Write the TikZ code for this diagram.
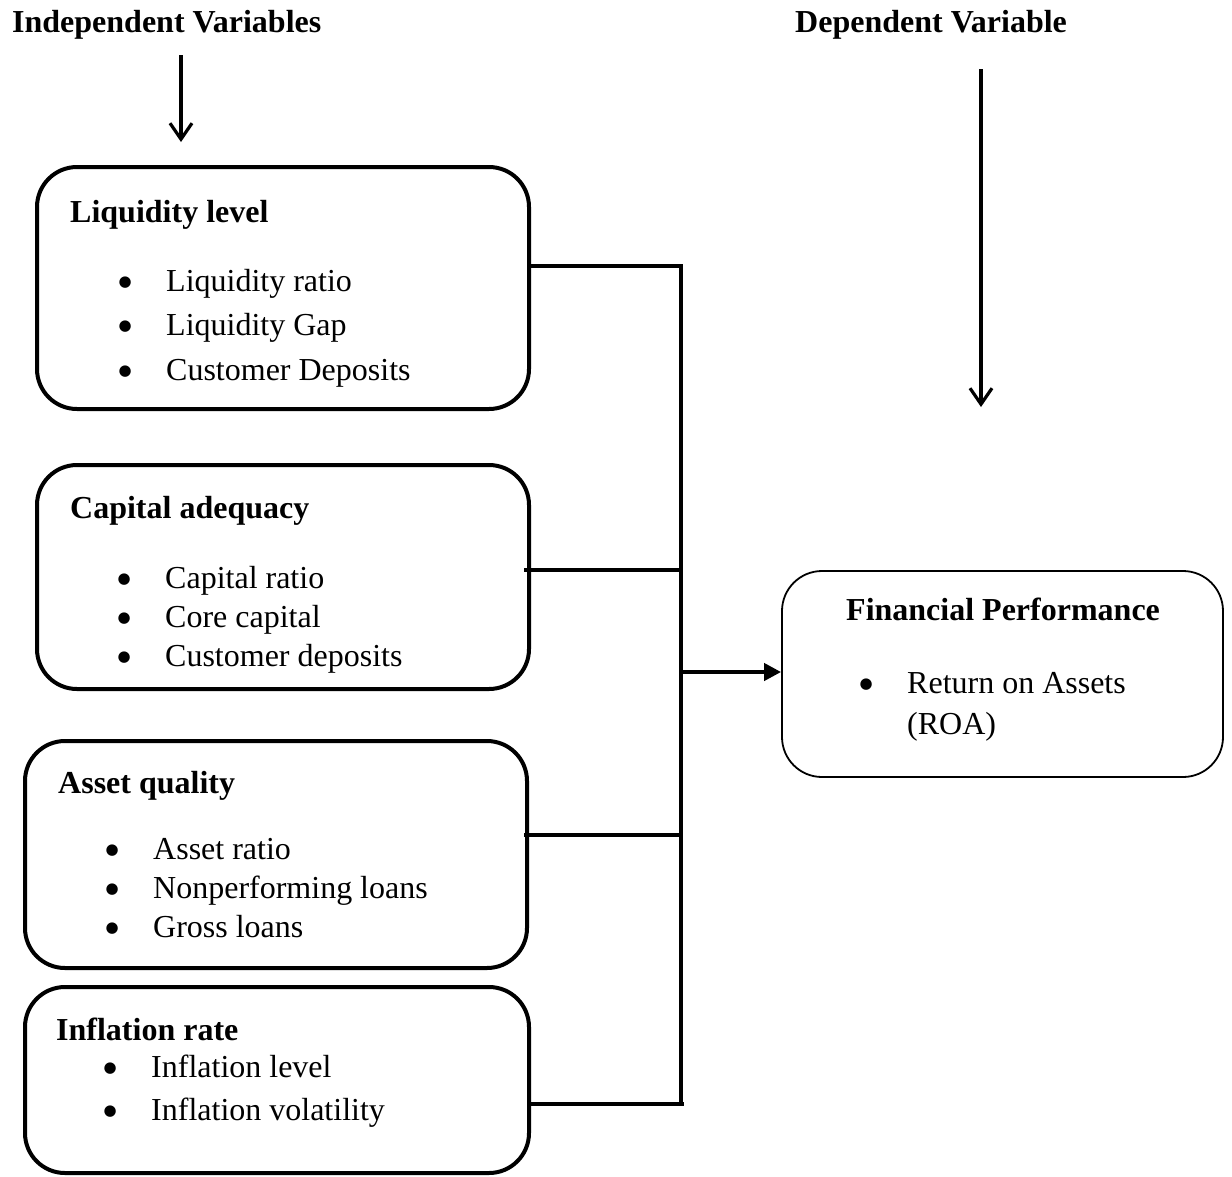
\documentclass[tikz,border=0pt]{standalone}
\usepackage{fontspec}
\setmainfont{Liberation Serif}
\newfontfamily\symfont{DejaVu Sans}
\usetikzlibrary{arrows.meta}
\begin{document}
\begin{tikzpicture}[x=1pt,y=-1pt,
  box/.style={draw, line width=4pt, rounded corners=40pt, inner sep=0pt},
  fbox/.style={draw, line width=1.8pt, rounded corners=40pt, inner sep=0pt},
  txt/.style={anchor=base west, inner sep=0pt, font=\fontsize{32}{38}\selectfont},
  btxt/.style={anchor=base west, inner sep=0pt, font=\fontsize{32}{38}\selectfont\bfseries},
  conn/.style={line width=4pt},
  downarrow/.style={line width=3.2pt, -{Straight Barb[length=16pt,width=22pt,line width=3.2pt]}},
  flow/.style={line width=4pt, -{Triangle[length=17pt,width=17pt]}},
]
% bullet in a box of 82pt, centred; item text starts right after
\newcommand{\bitem}{\makebox[82pt]{\raisebox{4.5pt}{\symfont\fontsize{15}{15}\selectfont ●}}}
\useasboundingbox (0,0) rectangle (1232,1176);

% headers
\node[btxt] (h1) at (12,32) {Independent Variables};
\node[btxt] (h2) at (795,32) {Dependent Variable};
\coordinate (a1s) at (181,55);
\coordinate (a1e) at (181,142);
\coordinate (a2s) at (981,69);
\coordinate (a2e) at (981,407);
\draw[downarrow] (a1s) -- (a1e);
\draw[downarrow] (a2s) -- (a2e);

% boxes
\node[box, minimum width=492pt, minimum height=242pt] (b1) at (283,288) {};
\node[box, minimum width=492pt, minimum height=224pt] (b2) at (283,577) {};
\node[box, minimum width=502pt, minimum height=227pt] (b3) at (276,854.5) {};
\node[box, minimum width=504pt, minimum height=186pt] (b4) at (277,1080) {};
\node[fbox, minimum width=441pt, minimum height=206pt] (b5) at (1002.5,674) {};

% box 1 (bullet centre x=125, text x=166)
\node[btxt] (t1) at (70,222) {Liquidity level};
\node[txt] (i11) at (84,291) {\bitem Liquidity ratio};
\node[txt] (i12) at (84,335) {\bitem Liquidity Gap};
\node[txt] (i13) at (84,380) {\bitem Customer Deposits};

% box 2
\node[btxt] (t2) at (70,518) {Capital adequacy};
\node[txt] (i21) at (83,588) {\bitem Capital ratio};
\node[txt] (i22) at (83,627) {\bitem Core capital};
\node[txt] (i23) at (83,666) {\bitem Customer deposits};

% box 3 (bullet centre x=113, text x=153)
\node[btxt] (t3) at (58,793) {Asset quality};
\node[txt] (i31) at (71,859) {\bitem Asset ratio};
\node[txt] (i32) at (71,898) {\bitem Nonperforming loans};
\node[txt] (i33) at (71,937) {\bitem Gross loans};

% box 4 (bullet centre x=111, text x=151)
\node[btxt] (t4) at (56,1040) {Inflation rate};
\node[txt] (i41) at (69,1077) {\bitem Inflation level};
\node[txt] (i42) at (69,1120) {\bitem Inflation volatility};

% box 5 (bullet centre x=866, text x=907)
\node[btxt] (t5) at (846,620) {Financial Performance};
\node[txt] (i51) at (825,693) {\bitem Return on Assets};
\node[txt] (i52) at (907,734) {(ROA)};

% connectors
\coordinate (j1) at (681,266);
\coordinate (j2) at (681,570);
\coordinate (j3) at (681,835);
\coordinate (j4) at (681,1104);
\coordinate (j5) at (681,672);
\draw[conn] ([yshift=2pt]j1) -- ([yshift=-2pt]j4);
\draw[conn] (b1.east |- j1) -- ([xshift=2pt]j1);
\draw[conn] ([xshift=-7pt]b2.east |- j2) -- ([xshift=2pt]j2);
\draw[conn] ([xshift=-5pt]b3.east |- j3) -- ([xshift=2pt]j3);
\draw[conn] (b4.east |- j4) -- ([xshift=3pt]j4);
\draw[flow] (j5) -- (b5.west |- j5);
\end{tikzpicture}
\end{document}
